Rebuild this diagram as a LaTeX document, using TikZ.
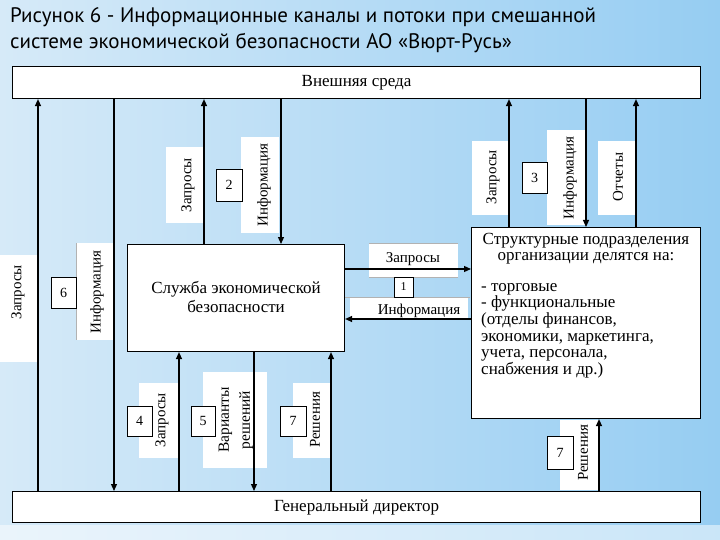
\documentclass[tikz,border=0pt]{standalone}
\usepackage{fontspec}
\setmainfont{Liberation Serif}
\newfontfamily\titlefont{PT Sans}
\usetikzlibrary{arrows.meta,fadings}
\definecolor{bgL}{RGB}{214,234,248}
\definecolor{bgR}{RGB}{150,205,242}
\tikzfading[name=bandfade, top color=transparent!100, middle color=transparent!0, bottom color=transparent!100]
\begin{document}
\begin{tikzpicture}[x=1pt,y=-1pt,
 box/.style={draw=black, line width=1.1pt, fill=white, inner sep=0pt},
 lblbg/.style={fill=white},
 num/.style={draw=black, line width=0.8pt, fill=white, inner sep=0pt, font=\fontsize{14}{14}\selectfont},
 rtxt/.style={rotate=90, font=\fontsize{15}{17}\selectfont, inner sep=0pt, align=center},
 htxt/.style={font=\fontsize{17}{19}\selectfont, inner sep=0pt},
 arr/.style={line width=1.2pt, -{Triangle[length=7pt,width=6pt]}},
 ln/.style={line width=1.2pt}
]
\useasboundingbox (0,0) rectangle (720,540);
% background
\shade[left color=bgL, right color=bgR] (0,0) rectangle (720,540);
\fill[white, opacity=0.75, path fading=bandfade] (0,300) rectangle (720,480);
\fill[white, opacity=0.5] (0,525) rectangle (720,540);

% title
\node[anchor=base west, inner sep=0pt, font=\titlefont\fontsize{21}{21}\selectfont] (t1) at (10,23) {Рисунок 6 - Информационные каналы и потоки при смешанной};
\node[anchor=base west, inner sep=0pt, font=\titlefont\fontsize{21}{21}\selectfont] (t2) at (10,49) {системе экономической безопасности АО «Вюрт-Русь»};

% label backgrounds
\path[lblbg] (166,147) rectangle (203,223);
\path[lblbg] (241,137) rectangle (279,233);
\path[lblbg] (472,141) rectangle (509,215);
\path[lblbg] (547,130) rectangle (586,225);
\path[lblbg] (598,141) rectangle (637,215);
\path[lblbg] (0,255) rectangle (37,362);
\path[lblbg] (76,243) rectangle (115,340);
\draw[gray!60, line width=0.5pt] (76,243) -- (76,340);
\path[lblbg] (369,243) rectangle (458,277);
\draw[gray!60, line width=0.5pt] (369,243) -- (458,243) (369,277) -- (458,277);
\path[lblbg] (350,297) rectangle (468,318);
\draw[gray!60, line width=0.5pt] (345,297) -- (470,297);
\path[lblbg] (139,383) rectangle (178,458);
\path[lblbg] (203,372) rectangle (267,468);
\path[lblbg] (293,383) rectangle (331,458);
\path[lblbg] (560,420) rectangle (599,490);

% main boxes
\node[box, anchor=north west, minimum width=688pt, minimum height=32pt] (ext) at (12,66) {};
\node[htxt] at (ext.center) {Внешняя среда};
\node[box, anchor=north west, minimum width=688pt, minimum height=31pt] (gd) at (12,491) {};
\node[htxt] at (gd.center) {Генеральный директор};
\node[box, anchor=north west, minimum width=217pt, minimum height=107pt] (sl) at (127,244) {};
\node[htxt, align=center, font=\fontsize{17}{19}\selectfont] at ([yshift=1pt]sl.center) {Служба экономической\\безопасности};
\node[box, anchor=north west, minimum width=229pt, minimum height=191pt] (st) at (471,227) {};
\node[htxt, align=center, anchor=north, font=\fontsize{17}{16}\selectfont] (sth) at (586,233) {Структурные подразделения\\организации делятся на:};
\node[htxt, align=left, anchor=north west, font=\fontsize{17}{16.6}\selectfont] (stl) at (481,283) {- торговые\\- функциональные\\(отделы финансов,\\экономики, маркетинга,\\учета, персонала,\\снабжения и др.)};

% x/y positions
\foreach \xx in {38,114,179,204,254,281,331,509,586,599,636} {\coordinate (x\xx) at (\xx,0);}
\coordinate (y269) at (0,269);
\coordinate (y319) at (0,319);

% connectors
\draw[arr] (gd.north -| x38) -- (ext.south -| x38);
\draw[arr] (ext.south -| x114) -- (gd.north -| x114);
\draw[arr] (sl.north -| x204) -- (ext.south -| x204);
\draw[arr] (ext.south -| x281) -- (sl.north -| x281);
\draw[arr] (st.north -| x509) -- (ext.south -| x509);
\draw[arr] (ext.south -| x586) -- (st.north -| x586);
\draw[arr] (st.north -| x636) -- (ext.south -| x636);
\draw[arr] (sl.east |- y269) -- (st.west |- y269);
\draw[arr] (st.west |- y319) -- (sl.east |- y319);
\draw[arr] (gd.north -| x179) -- (sl.south -| x179);
\draw[arr] (sl.south -| x254) -- (gd.north -| x254);
\draw[arr] (gd.north -| x331) -- (sl.south -| x331);
\draw[arr] (gd.north -| x599) -- (st.south -| x599);

% labels
\node[rtxt] (q2) at (188,185) {Запросы};
\node[rtxt] (i2) at (264,185) {Информация};
\node[rtxt] (q3) at (493,177) {Запросы};
\node[rtxt] (i3) at (570,178) {Информация};
\node[rtxt] (o3) at (618,177) {Отчеты};
\node[rtxt] (q6) at (18,292) {Запросы};
\node[rtxt] (i6) at (97,292) {Информация};
\node[htxt, font=\fontsize{15}{17}\selectfont] (q1) at (413,259) {Запросы};
\node[htxt, font=\fontsize{15}{17}\selectfont] (i1) at (419,311) {Информация};
\node[rtxt] (q4) at (162,420) {Запросы};
\node[rtxt, font=\fontsize{15.5}{21}\selectfont] (v5) at (236,420) {Варианты\\решений};
\node[rtxt] (r7) at (315,420) {Решения};
\node[rtxt] (r7b) at (583,453) {Решения};

% number boxes
\node[num, minimum width=26pt, minimum height=32pt] (n2) at (229,185) {2};
\node[num, minimum width=25pt, minimum height=31pt] (n3) at (534.5,177.5) {3};
\node[num, minimum width=25pt, minimum height=31pt] (n6) at (63.5,292.5) {6};
\node[num, minimum width=19pt, minimum height=20pt, font=\fontsize{12}{12}\selectfont] (n1) at (403.5,287) {1};
\node[num, minimum width=25pt, minimum height=30pt] (n4) at (139.5,421) {4};
\node[num, minimum width=24pt, minimum height=30pt] (n5) at (203,421) {5};
\node[num, minimum width=26pt, minimum height=30pt] (n7) at (293,421) {7};
\node[num, minimum width=26pt, minimum height=33pt] (n7b) at (560,452.5) {7};
\end{tikzpicture}
\end{document}
